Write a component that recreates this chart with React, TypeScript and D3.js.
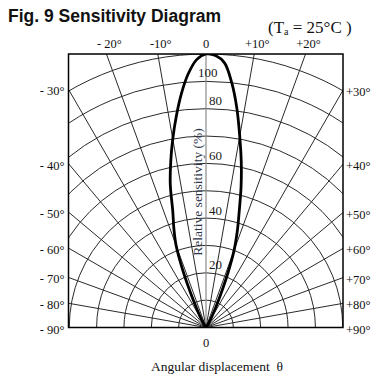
import React from "react";
import * as d3 from "d3";

// Polar grid definition
const gridAngles = [-90, -80, -70, -60, -50, -40, -30, -20, -10, 0, 10, 20, 30, 40, 50, 60, 70, 80, 90];
const gridRadii = [10, 20, 30, 40, 50, 60, 70, 80, 90, 100];
const radiusLabels = [20, 40, 60, 80, 100];
const topTickAngles = [-20, -10, 0, 10, 20];
const topTickLabels = ["- 20°", "-10°", "0", "+10°", "+20°"];
const leftTickAngles = [-30, -40, -50, -60, -70, -80, -90];
const leftTickLabels = ["- 30°", "- 40°", "- 50°", "- 60°", "- 70°", "- 80°", "- 90°"];
const rightTickAngles = [30, 40, 50, 60, 70, 80, 90];
const rightTickLabels = ["+30°", "+40°", "+50°", "+60°", "+70°", "+80°", "+90°"];

// Sensitivity pattern (angle in degrees, relative sensitivity %)
const patternAngles = [-40, -30, -26, -24, -22, -20, -18, -16, -14, -12, -10, -8, -6, -4, -2, 0, 2, 4, 6, 8, 10, 12, 14, 16, 18, 20, 22, 24, 26, 30, 40];
const patternValues = [0, 3, 8, 14, 23, 32, 38, 44, 54, 62, 70, 78, 86, 93, 98, 100, 99.5, 97, 90, 81, 71, 62, 53, 44, 37, 30, 21, 13, 8, 3, 0];

const W = 379;
const H = 381;
const cx = 206;
const cy = 327.5;
const box = { x0: 68.5, x1: 343, y0: 54, y1: 327.5 };

export default function App() {
  const r = d3.scaleLinear().domain([0, 100]).range([0, cy - box.y0]);
  const toRad = (a: number) => (a * Math.PI) / 180;
  const pt = (a: number, rad: number) => [cx + rad * Math.sin(toRad(a)), cy - rad * Math.cos(toRad(a))];

  const pattern = patternAngles.map((a, i) => ({ a, v: patternValues[i] }));
  const line = d3
    .lineRadial<{ a: number; v: number }>()
    .angle((d) => toRad(d.a))
    .radius((d) => r(d.v))
    .curve(d3.curveCatmullRom.alpha(0.5));
  const patternPath = line(pattern) || "";

  const edgeY = (a: number) => {
    const dx = a < 0 ? cx - box.x0 : box.x1 - cx;
    const t = Math.abs(toRad(a));
    if (Math.abs(a) === 90) return cy;
    return cy - dx / Math.tan(t);
  };
  const topX = (a: number) => cx + (cy - box.y0) * Math.tan(toRad(a));

  const serif = "'Liberation Serif', 'DejaVu Serif', serif";

  return (
    <svg width={W} height={H} style={{ position: "absolute", left: 0, top: 0, background: "#fff" }}>
      <defs>
        <clipPath id="boxclip">
          <rect x={box.x0} y={box.y0} width={box.x1 - box.x0} height={box.y1 - box.y0} />
        </clipPath>
      </defs>
      <rect x={0} y={0} width={W} height={H} fill="#fff" />

      {/* Title */}
      <text x={8} y={22} fontFamily="'Liberation Sans', Arial, sans-serif" fontWeight="bold" fontSize={17.5} fill="#111">
        Fig. 9 Sensitivity Diagram
      </text>
      <text x={268} y={33} fontFamily={serif} fontSize={17} fill="#111">
        (T<tspan fontSize={10} dy={2}>a</tspan>
        <tspan dy={-2}>{"\u00A0= 25°C\u00A0)"}</tspan>
      </text>

      <g clipPath="url(#boxclip)">
        {gridRadii.map((g) => (
          <circle key={"c" + g} cx={cx} cy={cy} r={r(g)} fill="none" stroke="#2a2a2a" strokeWidth={1} />
        ))}
        {gridAngles
          .filter((a) => a !== 0)
          .map((a) => {
            const [x2, y2] = pt(a, 420);
            return <line key={"l" + a} x1={cx} y1={cy} x2={x2} y2={y2} stroke="#2a2a2a" strokeWidth={1} />;
          })}
        <line x1={cx} y1={cy} x2={cx} y2={box.y0} stroke="#8a8a8a" strokeWidth={1.2} />
        <path d={patternPath} transform={`translate(${cx},${cy})`} fill="none" stroke="#000" strokeWidth={2.8} strokeLinejoin="round" />
      </g>

      <rect x={box.x0} y={box.y0} width={box.x1 - box.x0} height={box.y1 - box.y0} fill="none" stroke="#000" strokeWidth={1.5} />

      {radiusLabels.map((v) => (
        <text
          key={"rl" + v}
          x={v === 100 ? cx - 8 : cx + 3}
          y={v === 100 ? 77 : cy - r(v) - 3.5}
          fontFamily={serif}
          fontSize={13}
          fill="#1a1a1a"
        >
          {v}
        </text>
      ))}
      <text
        transform={`translate(${cx - 4},${192}) rotate(-90)`}
        textAnchor="middle"
        fontFamily={serif}
        fontSize={13.5}
        fill="#2c3348"
      >
        Relative sensitivity (%)
      </text>

      {topTickAngles.map((a, i) => (
        <text key={"t" + a} x={topX(a) + (a === 0 ? 0 : 3)} y={48} textAnchor="middle" fontFamily={serif} fontSize={12.5} fill="#111">
          {topTickLabels[i]}
        </text>
      ))}
      {leftTickAngles.map((a, i) => (
        <text key={"lt" + a} x={box.x0 - 4} y={edgeY(a) + 6} textAnchor="end" fontFamily={serif} fontSize={12.5} fill="#111">
          {leftTickLabels[i]}
        </text>
      ))}
      {rightTickAngles.map((a, i) => (
        <text key={"rt" + a} x={box.x1 + 3} y={edgeY(a) + 6} textAnchor="start" fontFamily={serif} fontSize={12.5} fill="#111">
          {rightTickLabels[i]}
        </text>
      ))}

      <text x={cx} y={347} textAnchor="middle" fontFamily={serif} fontSize={12.5} fill="#111">
        0
      </text>
      <text x={217} y={371} textAnchor="middle" fontFamily={serif} fontSize={13.5} fill="#111">
        {"Angular displacement \u00A0θ"}
      </text>
    </svg>
  );
}
